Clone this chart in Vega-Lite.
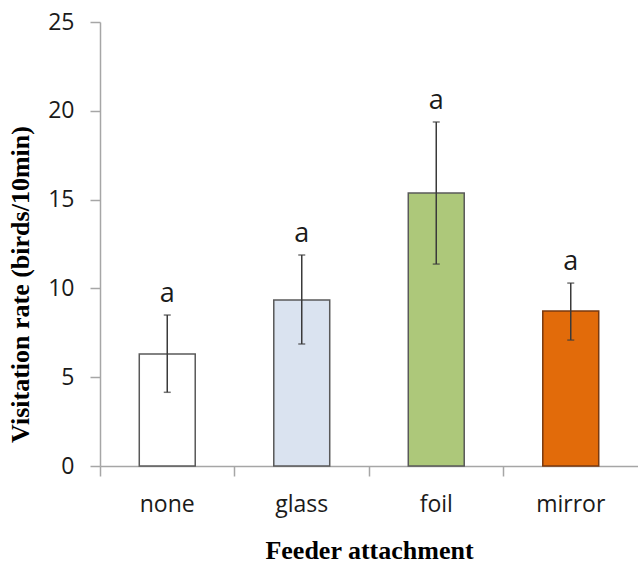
{
  "$schema": "https://vega.github.io/schema/vega-lite/v6.json",
  "width": 538,
  "height": 444,
  "autosize": "none",
  "padding": {"left": 100, "top": 22, "right": 0, "bottom": 99},
  "background": "white",
  "config": {"view": {"stroke": null}},
  "data": {
    "values": [
      {"attachment": "none", "rate": 6.3, "lo": 4.15, "hi": 8.5, "sig": "a"},
      {"attachment": "glass", "rate": 9.35, "lo": 6.87, "hi": 11.88, "sig": "a"},
      {"attachment": "foil", "rate": 15.37, "lo": 11.37, "hi": 19.37, "sig": "a"},
      {"attachment": "mirror", "rate": 8.73, "lo": 7.09, "hi": 10.3, "sig": "a"}
    ]
  },
  "encoding": {
    "x": {
      "field": "attachment",
      "type": "nominal",
      "sort": ["none", "glass", "foil", "mirror"],
      "scale": {"paddingInner": 0, "paddingOuter": 0},
      "axis": {
        "title": "Feeder attachment",
        "titleFont": "Liberation Serif",
        "titleFontWeight": "bold",
        "titleFontSize": 26,
        "titleColor": "black",
        "titleX": 269,
        "titleY": 92,
        "titleBaseline": "alphabetic",
        "labelFont": "Open Sans",
        "labelFontSize": 23,
        "labelColor": "#1a1a1a",
        "labelAngle": 0,
        "labelBaseline": "alphabetic",
        "labelPadding": 35,
        "tickSize": 10,
        "bandPosition": 0,
        "tickColor": "#a6a6a6",
        "domainColor": "#a6a6a6",
        "domainWidth": 1.5,
        "tickWidth": 1.5
      }
    }
  },
  "layer": [
    {
      "mark": {"type": "bar", "width": {"band": 0.416}, "strokeWidth": 1.5},
      "encoding": {
        "y": {
          "field": "rate",
          "type": "quantitative",
          "scale": {"domain": [0, 25], "nice": false},
          "axis": {
            "title": "Visitation rate (birds/10min)",
            "titleFont": "Liberation Serif",
            "titleFontWeight": "bold",
            "titleFontSize": 26,
            "titleColor": "black",
            "titleX": -67,
            "titleY": 262,
            "titleBaseline": "bottom",
            "values": [0, 5, 10, 15, 20, 25],
            "grid": false,
            "labelFont": "Open Sans",
            "labelFontSize": 23,
            "labelColor": "#1a1a1a",
            "labelPadding": 16,
            "tickSize": 10,
            "tickColor": "#a6a6a6",
            "domainColor": "#a6a6a6",
            "domainWidth": 1.5,
            "tickWidth": 1.5
          }
        },
        "fill": {
          "field": "attachment",
          "type": "nominal",
          "scale": {"domain": ["none", "glass", "foil", "mirror"], "range": ["#ffffff", "#dae3f0", "#adc87a", "#e26b0a"]},
          "legend": null
        },
        "stroke": {
          "field": "attachment",
          "type": "nominal",
          "scale": {"domain": ["none", "glass", "foil", "mirror"], "range": ["#595959", "#595959", "#595959", "#7a3a10"]},
          "legend": null
        }
      }
    },
    {
      "mark": {"type": "rule", "color": "#3a3a3a", "strokeWidth": 1.5},
      "encoding": {
        "y": {"field": "lo", "type": "quantitative", "scale": {"domain": [0, 25], "nice": false}},
        "y2": {"field": "hi"}
      }
    },
    {
      "mark": {"type": "tick", "color": "#3a3a3a", "size": 7, "thickness": 1.5},
      "encoding": {"y": {"field": "lo", "type": "quantitative", "scale": {"domain": [0, 25], "nice": false}}}
    },
    {
      "mark": {"type": "tick", "color": "#3a3a3a", "size": 7, "thickness": 1.5},
      "encoding": {"y": {"field": "hi", "type": "quantitative", "scale": {"domain": [0, 25], "nice": false}}}
    },
    {
      "mark": {"type": "text", "font": "Open Sans", "fontSize": 27, "baseline": "alphabetic", "dy": -13, "color": "#1a1a1a"},
      "encoding": {
        "y": {"field": "hi", "type": "quantitative", "scale": {"domain": [0, 25], "nice": false}},
        "text": {"field": "sig"}
      }
    }
  ]
}
